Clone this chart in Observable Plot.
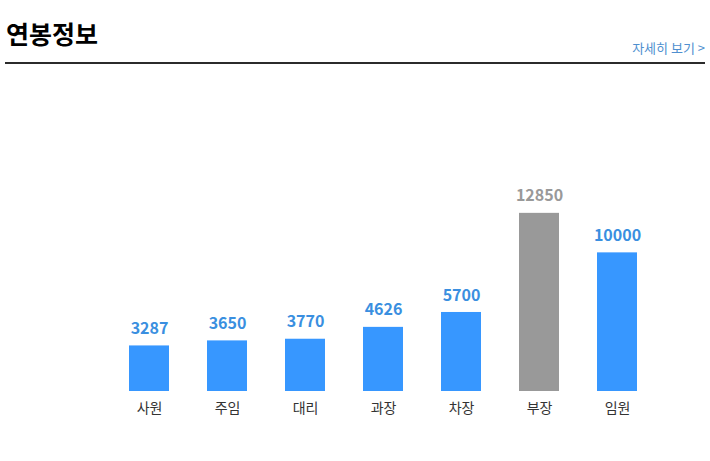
<!DOCTYPE html>
<html>
<head>
<meta charset="utf-8">
<script src="https://cdn.jsdelivr.net/npm/d3@7"></script>
<script src="https://cdn.jsdelivr.net/npm/@observablehq/plot@0.6"></script>
<style>
  body { margin: 0; background: #fff; font-family: "Noto Sans CJK KR", "Noto Sans", sans-serif; }
  #wrap { position: relative; width: 710px; height: 461px; }
  #title { position: absolute; left: 6px; top: 21px; font-size: 25px; font-weight: bold; color: #000; letter-spacing: 0px; line-height: 1; }
  #more { position: absolute; right: 5px; top: 41px; font-size: 13px; color: #4f8fcf; line-height: 1; }
  #rule { position: absolute; left: 5px; top: 62px; width: 700px; height: 2px; background: #2b2b2b; }
  #chart { position: absolute; left: 0; top: 66px; }
</style>
</head>
<body>
<div id="wrap">
  <div id="title">연봉정보</div>
  <div id="more">자세히 보기 &gt;</div>
  <div id="rule"></div>
  <div id="chart"></div>
</div>
<script>
const categories = ["사원", "주임", "대리", "과장", "차장", "부장", "임원"];
const salaries = [3287, 3650, 3770, 4626, 5700, 12850, 10000];
const highlight = "부장";

const data = categories.map((c, i) => ({ category: c, value: salaries[i] }));
const colorOf = d => d.category === highlight ? "#999999" : "#3797ff";
const labelColorOf = d => d.category === highlight ? "#999999" : "#3a8fe0";

const chart = Plot.plot({
  width: 710,
  height: 365,
  marginLeft: 91,
  marginRight: 35,
  marginTop: 20,
  marginBottom: 40,
  style: { fontFamily: "'Noto Sans CJK KR', sans-serif", background: "transparent" },
  x: { domain: categories, padding: 0.487, label: null },
  y: { domain: [0, 22000], axis: null },
  marks: [
    Plot.barY(data, { x: "category", y: "value", fill: colorOf }),
    Plot.text(data, {
      x: "category", y: "value", text: d => String(d.value),
      fill: labelColorOf, dy: -17, fontSize: 16, fontWeight: "bold"
    }),
    Plot.axisX({ tickSize: 0, tickPadding: 12, fontSize: 14, color: "#333", label: null })
  ]
});
document.getElementById("chart").appendChild(chart);
</script>
</body>
</html>
